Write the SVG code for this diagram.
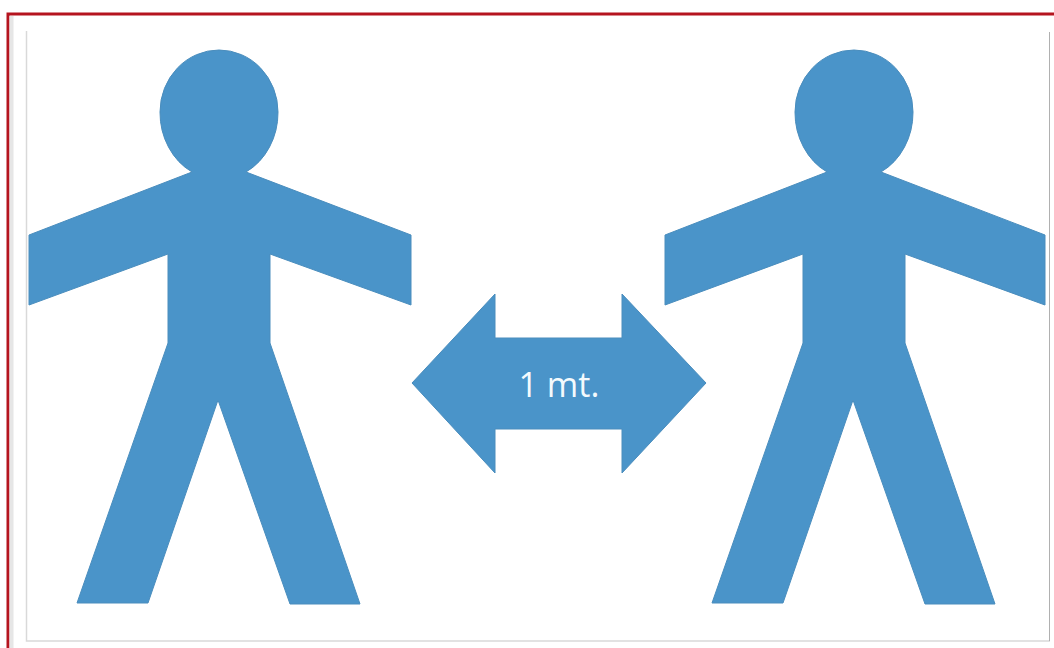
<svg xmlns="http://www.w3.org/2000/svg" width="1054" height="648" viewBox="0 0 1054 648">
<style>
.f{fill:#4a94c9;stroke:#4a8dbd;stroke-width:1}
.t{font-family:"Open Sans","Noto Sans",sans-serif;font-size:34px;font-weight:500;fill:#f4fafd}
</style>
<rect width="1054" height="648" fill="#fff"/>
<path d="M8 648V14H1054" fill="none" stroke="#b5141f" stroke-width="3"/>
<path d="M11.500 16V648" stroke="#e6e6e6" stroke-width="4" fill="none"/>
<path d="M26.500 31V641H1050" fill="none" stroke="#d9d9d9" stroke-width="1.500"/>
<path d="M1049.500 32V641" fill="none" stroke="#b0b0b0" stroke-width="1"/>
<g id="person-left">
<path class="f" d="M192 172A59 67 0 0 1 160 112A59 62 0 0 1 278 112A59 67 0 0 1 246 172L411 235V305L270 254V343L360 604H290L218 400L148 603H77L168 343V254L29 305V235Z"/>
</g>
<g id="person-right">
<path class="f" d="M827 172A59 67 0 0 1 795 112A59 62 0 0 1 913 112A59 67 0 0 1 881 172L1045 235V305L905 254V343L995 604H925L853 400L783 603H712L803 343V254L665 305V235Z"/>
</g>
<g id="double-arrow">
<path class="f" d="M412 383L495 294V338H622V294L706 383L622 473V429H495V473Z"/>
<text class="t" x="559" y="397" text-anchor="middle">1 mt.</text>
</g>
</svg>
